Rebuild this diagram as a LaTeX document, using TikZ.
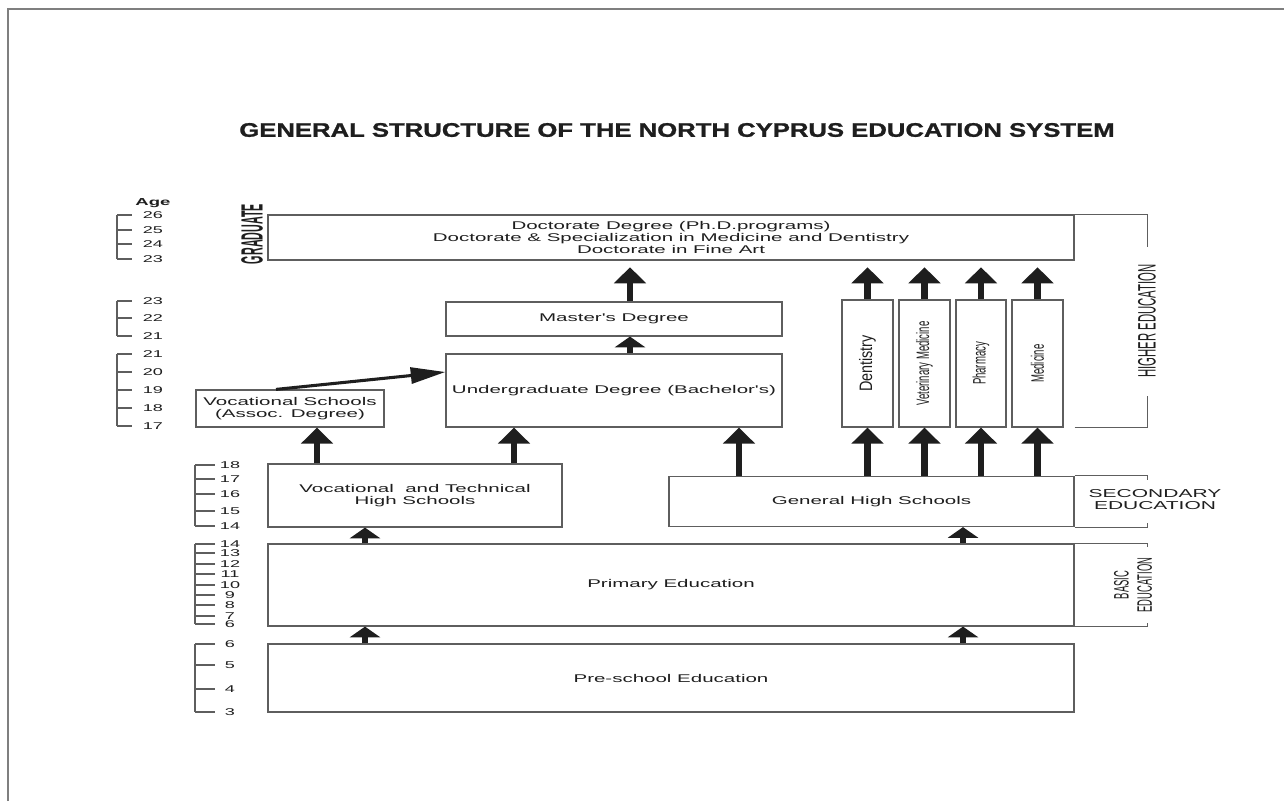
\documentclass[tikz,border=0pt]{standalone}
\usepackage{graphicx}
\usepackage{fontspec}
\setmainfont{Liberation Sans}
\newfontfamily\boxfont[FakeStretch=1.83]{Liberation Sans}
\newfontfamily\headfont[FakeStretch=1.31,FakeBold=1.2]{Liberation Sans Bold}
\newfontfamily\tallfont[FakeStretch=0.53]{Liberation Sans}
\newfontfamily\dentfont[FakeStretch=0.8]{Liberation Sans}
\newfontfamily\sidefont[FakeStretch=0.45]{Liberation Sans}
\newfontfamily\gradfont[FakeStretch=0.35]{Liberation Sans}
\usetikzlibrary{arrows.meta}
\definecolor{edgegray}{HTML}{5E5E5E}
\definecolor{framegray}{HTML}{7F7F7F}
\definecolor{inkblack}{HTML}{1E1E1E}
\tikzset{
  boxsize/.style 2 args={minimum width=#1*0.75pt,minimum height=#2*0.75pt},
  level/.style={draw=edgegray,line width=0.9pt,inner sep=0pt,align=center,text=inkblack,
    font=\boxfont\fontsize{8.4}{8.7}\selectfont},
  rim/.style={draw=edgegray,line width=0.8pt},
  upar/.style={draw=inkblack,line width=5pt,-{Triangle[width=23.5pt,length=12pt]}},
  stubar/.style={draw=inkblack,line width=5pt,-{Triangle[width=22.5pt,length=8pt]}},
  agenum/.style={text=inkblack,inner sep=0pt,font=\boxfont\fontsize{7.4}{7.4}\selectfont},
}
\begin{document}
\begin{tikzpicture}[x=0.75pt,y=-0.75pt]
\useasboundingbox (0,0) rectangle (1284,801);
% page frame
\draw[framegray,line width=1.5pt] (8,801) -- (8,9) -- (1284,9);

\node[font=\headfont\fontsize{14.7}{16}\selectfont,text=inkblack] (title) at (677,130)
  {GENERAL STRUCTURE OF THE NORTH CYPRUS EDUCATION SYSTEM};

% levels
\node[level,boxsize={806}{45}] (grad) at (671,237.5)
  {Doctorate Degree (Ph.D.programs)\\Doctorate \& Specialization in Medicine and Dentistry\\Doctorate in Fine Art};
\node[level,boxsize={336}{34}] (master) at (614,319) {Master's Degree};
\node[level,boxsize={336}{73}] (ugrad) at (614,390.5) {Undergraduate Degree (Bachelor's)};
\node[level,boxsize={188}{37}] (vocsch) at (290,408.5) {Vocational Schools\\(Assoc. Degree)};
\node[level,boxsize={294}{63}] (vths) at (415,495.5) {Vocational\ \ and Technical\\High Schools};
\node[level,boxsize={405}{50}] (ghs) at (871.5,501.5) {General High Schools};
\node[level,boxsize={806}{82}] (primary) at (671,585) {Primary Education};
\node[level,boxsize={806}{68}] (presch) at (671,678) {Pre-school Education};

% faculties
\node[level,boxsize={51}{127},font=\dentfont\fontsize{13.5}{14}\selectfont] (dent) at (867.5,363.5) {\rotatebox{90}{Dentistry}};
\node[level,boxsize={51}{127},font=\tallfont\fontsize{13.5}{14}\selectfont] (vet) at (924.5,363.5) {\rotatebox{90}{Veterinary Medicine}};
\node[level,boxsize={50}{127},font=\tallfont\fontsize{13.5}{14}\selectfont] (pharm) at (981,363.5) {\rotatebox{90}{Pharmacy}};
\node[level,boxsize={51}{127},font=\tallfont\fontsize{13.5}{14}\selectfont] (med) at (1037.5,363.5) {\rotatebox{90}{Medicine}};

% arrows
\draw[upar,shorten >=5pt] (630,0 |- master.north) -- (630,0 |- grad.south);
\draw[stubar] (630,0 |- ugrad.north) -- (630,0 |- master.south);
\foreach \f in {dent,vet,pharm,med}{
  \draw[upar,shorten >=5pt] (\f.north) -- (\f.north |- grad.south);
  \draw[upar] (\f.south |- ghs.north) -- (\f.south);
}
\draw[upar] (739,0 |- ghs.north) -- (739,0 |- ugrad.south);
\draw[upar] (317,0 |- vths.north) -- (317,0 |- vocsch.south);
\draw[upar] (514,0 |- vths.north) -- (514,0 |- ugrad.south);
\draw[stubar] (365,0 |- primary.north) -- (365,0 |- vths.south);
\draw[stubar] (963,0 |- primary.north) -- (963,0 |- ghs.south);
\draw[stubar] (365,0 |- presch.north) -- (365,0 |- primary.south);
\draw[stubar] (963,0 |- presch.north) -- (963,0 |- primary.south);
\draw[inkblack,line width=2.3pt,-{Triangle[width=12pt,length=26pt]}] (276,0 |- vocsch.north) -- (ugrad.west |- 0,372);

% side labels
\node[font=\gradfont\bfseries\fontsize{23}{23}\selectfont,text=inkblack,rotate=90] (gradlab) at (252,234) {GRADUATE};
\draw[rim] (grad.north east) -- ++(73,0) -- ++(0,33);
\draw[rim] (grad.east |- med.south) -- ++(73,0) -- ++(0,-32);
\node[font=\sidefont\fontsize{18.9}{19}\selectfont,text=inkblack,rotate=90] (higher) at (1147,321) {HIGHER EDUCATION};
\draw[rim] (ghs.north east) -- ++(73,0) -- ++(0,4);
\draw[rim] (ghs.south east) -- ++(73,0) -- ++(0,-4);
\node[font=\boxfont\fontsize{8.6}{9}\selectfont,align=center,text=inkblack] (second) at (1155,500) {SECONDARY\\EDUCATION};
\draw[rim] (primary.north east) -- ++(73,0) -- ++(0,4);
\draw[rim] (primary.south east) -- ++(73,0) -- ++(0,-4);
\node[font=\sidefont\fontsize{15.7}{17.3}\selectfont,align=center,text=inkblack,rotate=90] (basic) at (1133,585) {BASIC\\EDUCATION};

% age scales
\node[font=\boxfont\bfseries\fontsize{7.6}{7.6}\selectfont,text=inkblack] (age) at (153,203) {Age};
\draw[rim] (117,215) -- (117,259);
\foreach \v/\y in {26/215,25/230,24/244,23/259}{
  \draw[rim] (117,\y) -- (132,\y);
  \node[agenum] (a\v) at (153,\y) {\v};
}
\draw[rim] (117,301) -- (117,336);
\foreach \v/\y in {23/301,22/318,21/336}{
  \draw[rim] (117,\y) -- (132,\y);
  \node[agenum] (b\v) at (153,\y) {\v};
}
\draw[rim] (117,354) -- (117,426);
\foreach \v/\y in {21/354,20/372,19/390,18/408,17/426}{
  \draw[rim] (117,\y) -- (132,\y);
  \node[agenum] (c\v) at (153,\y) {\v};
}
\draw[rim] (195,465) -- (195,526);
\foreach \v/\y in {18/465,17/479,16/494,15/511,14/526}{
  \draw[rim] (195,\y) -- (215,\y);
  \node[agenum] (d\v) at (230,\y) {\v};
}
\draw[rim] (195,544) -- (195,624);
\foreach \v/\y in {14/544,13/553,12/564,11/574,10/585,9/595,8/605,7/616,6/624}{
  \draw[rim] (195,\y) -- (215,\y);
  \node[agenum] (e\v) at (230,\y) {\v};
}
\draw[rim] (195,644) -- (195,712);
\foreach \v/\y in {6/644,5/665,4/689,3/712}{
  \draw[rim] (195,\y) -- (215,\y);
  \node[agenum] (f\v) at (230,\y) {\v};
}
\end{tikzpicture}
\end{document}
